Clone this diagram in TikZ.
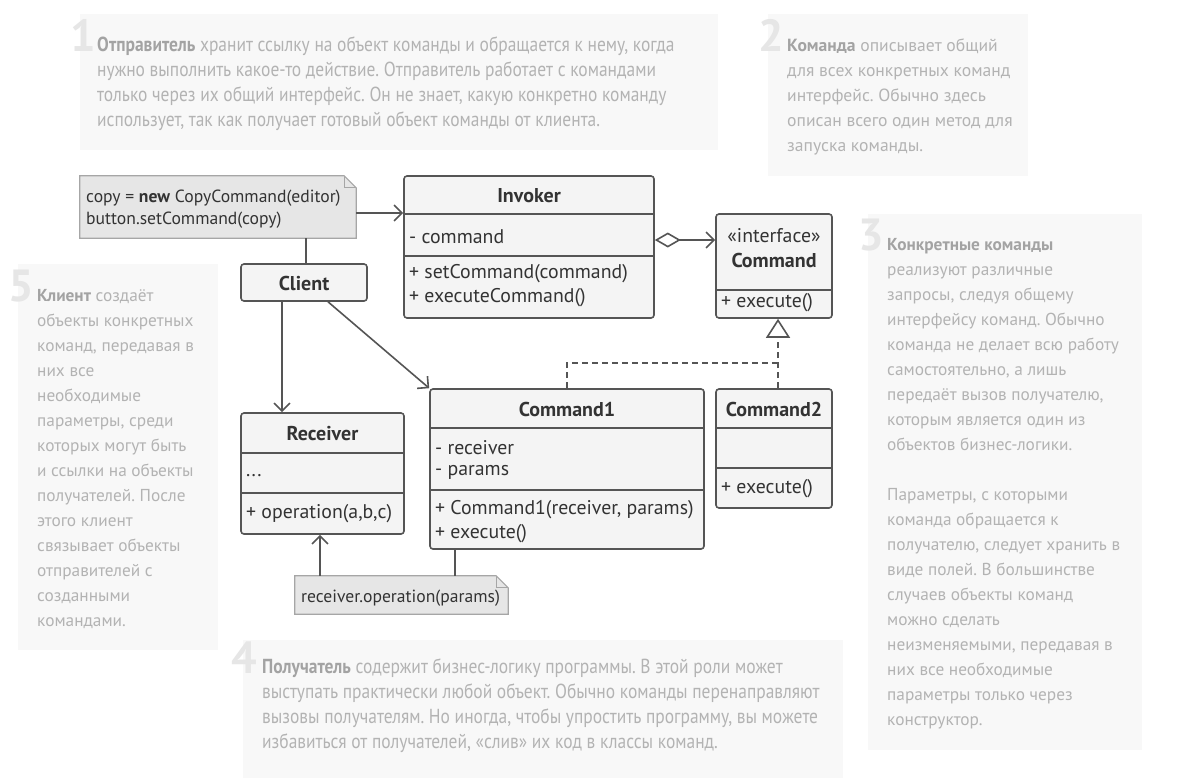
\documentclass[tikz,border=0pt]{standalone}
\usepackage{fontspec}
\setmainfont{PT Sans}
\newfontfamily\narrowfont[FakeStretch=0.86]{PT Sans}
\usetikzlibrary{arrows.meta}
\definecolor{panelbg}{HTML}{F8F8F8}
\definecolor{numcol}{HTML}{E6E6E6}
\definecolor{anntext}{HTML}{B3B3B3}
\definecolor{annbold}{HTML}{A3A3A3}
\definecolor{umlline}{HTML}{555555}
\definecolor{umlfill}{HTML}{F4F4F4}
\definecolor{umltext}{HTML}{333333}
\definecolor{notefill}{HTML}{E6E6E6}
\definecolor{noteline}{HTML}{A6A6A6}
\newcommand{\hl}[1]{\textcolor{annbold}{\bfseries #1}}
\frenchspacing
\begin{document}
\begin{tikzpicture}[x=1pt,y=-1pt,
  panel/.style={fill=panelbg, draw=none},
  bignum/.style={font=\fontsize{45}{45}\selectfont\bfseries, text=numcol, anchor=base east, inner sep=0pt},
  ann/.style={anchor=north west, inner sep=0pt, align=left, text=anntext, font=\fontsize{17.3}{25}\selectfont},
  annmid/.style={ann, font=\fontsize{17.6}{25}\selectfont},
  annnarrow/.style={ann, font=\narrowfont\fontsize{20.3}{25}\selectfont},
  cls/.style={draw=umlline, fill=umlfill, line width=1.6pt, rounded corners=3pt, inner sep=0pt},
  ttl/.style={font=\fontsize{20}{22}\selectfont\bfseries, text=umltext, inner sep=0pt},
  mem/.style={font=\fontsize{19.8}{22}\selectfont, text=umltext, inner sep=0pt, anchor=west},
  notetxt/.style={font=\fontsize{17.6}{20}\selectfont, text=umltext, inner sep=0pt, anchor=west},
  sep/.style={draw=umlline, line width=1.6pt},
  notebox/.style={inner sep=0pt},
  note/.style={fill=notefill, draw=noteline, line width=1.2pt},
  link/.style={draw=umlline, line width=1.6pt},
  arr/.style={link, -{Straight Barb[length=8pt,width=16pt]}},
  realize/.style={link, dash pattern=on 6pt off 4pt, -{Triangle[length=19pt,width=24pt,fill=white]}}
]
\useasboundingbox[fill=white] (0,0) rectangle (1180,782);

% explanatory panels
\fill[panel] (80,14) rectangle (718,150);
\fill[panel] (768,14) rectangle (1028,176);
\fill[panel] (868,214) rectangle (1142,750);
\fill[panel] (18,264) rectangle (218,650);
\fill[panel] (243,640) rectangle (843,778);

\node[bignum] (num1) at (96,51) {1};
\node[bignum] (num2) at (784,51) {2};
\node[bignum] (num3) at (884,250) {3};
\node[bignum] (num5) at (34,301) {5};
\node[bignum] (num4) at (257,673) {4};

\node[annnarrow] (t1) at (97,35) {\rule{0pt}{16pt}\hl{Отправитель} хранит ссылку на объект команды и обращается к нему, когда\\
нужно выполнить какое-то действие. Отправитель работает с командами\\
только через их общий интерфейс. Он не знает, какую конкретно команду\\
использует, так как получает готовый объект команды от клиента.};

\node[annmid] (t2) at (787,35) {\rule{0pt}{16pt}\hl{Команда} описывает общий\\для всех конкретных команд\\интерфейс. Обычно здесь\\описан всего один метод для\\запуска команды.};

\node[ann] (t3) at (887,234) {\rule{0pt}{16pt}\hl{Конкретные команды}\\реализуют различные\\запросы, следуя общему\\интерфейсу команд. Обычно\\команда не делает всю работу\\самостоятельно, а лишь\\передаёт вызов получателю,\\которым является один из\\объектов бизнес-логики.\\[25pt]Параметры, с которыми\\команда обращается к\\получателю, следует хранить в\\виде полей. В большинстве\\случаев объекты команд\\можно сделать\\неизменяемыми, передавая в\\них все необходимые\\параметры только через\\конструктор.};

\node[ann] (t5) at (37,285) {\rule{0pt}{16pt}\hl{Клиент} создаёт\\объекты конкретных\\команд, передавая в\\них все\\необходимые\\параметры, среди\\которых могут быть\\и ссылки на объекты\\получателей. После\\этого клиент\\связывает объекты\\отправителей с\\созданными\\командами.};

\node[annnarrow] (t4) at (262,657) {\rule{0pt}{16pt}\hl{Получатель} содержит бизнес-логику программы. В этой роли может\\
выступать практически любой объект. Обычно команды перенаправляют\\
вызовы получателям. Но иногда, чтобы упростить программу, вы можете\\
избавиться от получателей, «слив» их код в классы команд.};

% notes
\node[notebox, minimum width=276pt, minimum height=62pt] (n1) at (218,207) {};
\path[note] (n1.north west) -- ([xshift=-12pt]n1.north east) -- ([yshift=-12pt]n1.north east) -- (n1.south east) -- (n1.south west) -- cycle;
\draw[noteline, line width=1pt] ([xshift=-12pt]n1.north east) -- ([xshift=-12pt,yshift=-12pt]n1.north east) -- ([yshift=-12pt]n1.north east);
\node[notetxt] (n1a) at (86,198) {copy = \textbf{new} CopyCommand(editor)};
\node[notetxt] (n1b) at (86,220) {button.setCommand(copy)};

\node[notebox, minimum width=213pt, minimum height=38pt] (n2) at (401.5,595) {};
\path[note] (n2.north west) -- ([xshift=-12pt]n2.north east) -- ([yshift=-12pt]n2.north east) -- (n2.south east) -- (n2.south west) -- cycle;
\draw[noteline, line width=1pt] ([xshift=-12pt]n2.north east) -- ([xshift=-12pt,yshift=-12pt]n2.north east) -- ([yshift=-12pt]n2.north east);
\node[notetxt] (n2a) at (301,598) {receiver.operation(params)};

% Invoker
\node[cls, minimum width=250pt, minimum height=142pt] (inv) at (529,247) {};
\draw[sep] (inv.west |- 0,214) -- (inv.east |- 0,214);
\draw[sep] (inv.west |- 0,256) -- (inv.east |- 0,256);
\node[ttl] (invt) at (529,196) {Invoker};
\node[mem] (inv1) at (409,237) {- command};
\node[mem] (inv2) at (409,274) {+ setCommand(command)};
\node[mem] (inv3) at (409,298) {+ executeCommand()};

% Client
\node[cls, minimum width=126pt, minimum height=37pt] (cli) at (304,282.5) {};
\node[ttl] (clit) at (304,283) {Client};

% Command interface
\node[cls, minimum width=116pt, minimum height=104pt] (cmd) at (774,266) {};
\draw[sep] (cmd.west |- 0,290) -- (cmd.east |- 0,290);
\node[mem, anchor=center] (cmds) at (774,236) {«interface»};
\node[ttl] (cmdt) at (774,260) {Command};
\node[mem] (cmd1m) at (721,303) {+ execute()};

% Command2
\node[cls, minimum width=116pt, minimum height=119pt] (c2) at (774,448.5) {};
\draw[sep] (c2.west |- 0,428) -- (c2.east |- 0,428);
\draw[sep] (c2.west |- 0,468) -- (c2.east |- 0,468);
\node[ttl] (c2t) at (774,409) {Command2};
\node[mem] (c2m) at (721,489) {+ execute()};

% Command1
\node[cls, minimum width=274pt, minimum height=160pt] (c1) at (567,469) {};
\draw[sep] (c1.west |- 0,428) -- (c1.east |- 0,428);
\draw[sep] (c1.west |- 0,490) -- (c1.east |- 0,490);
\node[ttl] (c1t) at (567,409) {Command1};
\node[mem] (c1a) at (435,448) {- receiver};
\node[mem] (c1b) at (435,472) {- params};
\node[mem] (c1c) at (435,510) {+ Command1(receiver, params)};
\node[mem] (c1d) at (435,534) {+ execute()};

% Receiver
\node[cls, minimum width=163pt, minimum height=121pt] (rcv) at (322.5,473.5) {};
\draw[sep] (rcv.west |- 0,453) -- (rcv.east |- 0,453);
\draw[sep] (rcv.west |- 0,493) -- (rcv.east |- 0,493);
\node[ttl] (rcvt) at (322.5,434) {Receiver};
\node[mem] (rcva) at (246,476) {...};
\node[mem] (rcvb) at (246,514) {+ operation(a,b,c)};

% connectors
\draw[arr] (n1.east |- 0,213) -- (inv.west |- 0,213);
\draw[link] (n1.south -| 306,0) -- (cli.north -| 306,0);
\draw[link, {Diamond[open,length=26pt,width=15pt]}-{Straight Barb[length=8pt,width=16pt]}] (inv.east |- 0,240) -- (cmd.west |- 0,240);
\draw[arr] (cli.south -| 282,0) -- (rcv.north -| 282,0);
\draw[arr] (cli.south -| 328,0) -- (c1.north west);
\draw[realize] (c2.north -| 778,0) -- (cmd.south -| 778,0);
\draw[link, dash pattern=on 6pt off 4pt] (c1.north -| 567,0) -- (567,363) -- (778,363);
\draw[arr] (n2.north -| 320,0) -- (rcv.south -| 320,0);
\draw[link] (c1.south -| 455,0) -- (n2.north -| 455,0);
\end{tikzpicture}
\end{document}
